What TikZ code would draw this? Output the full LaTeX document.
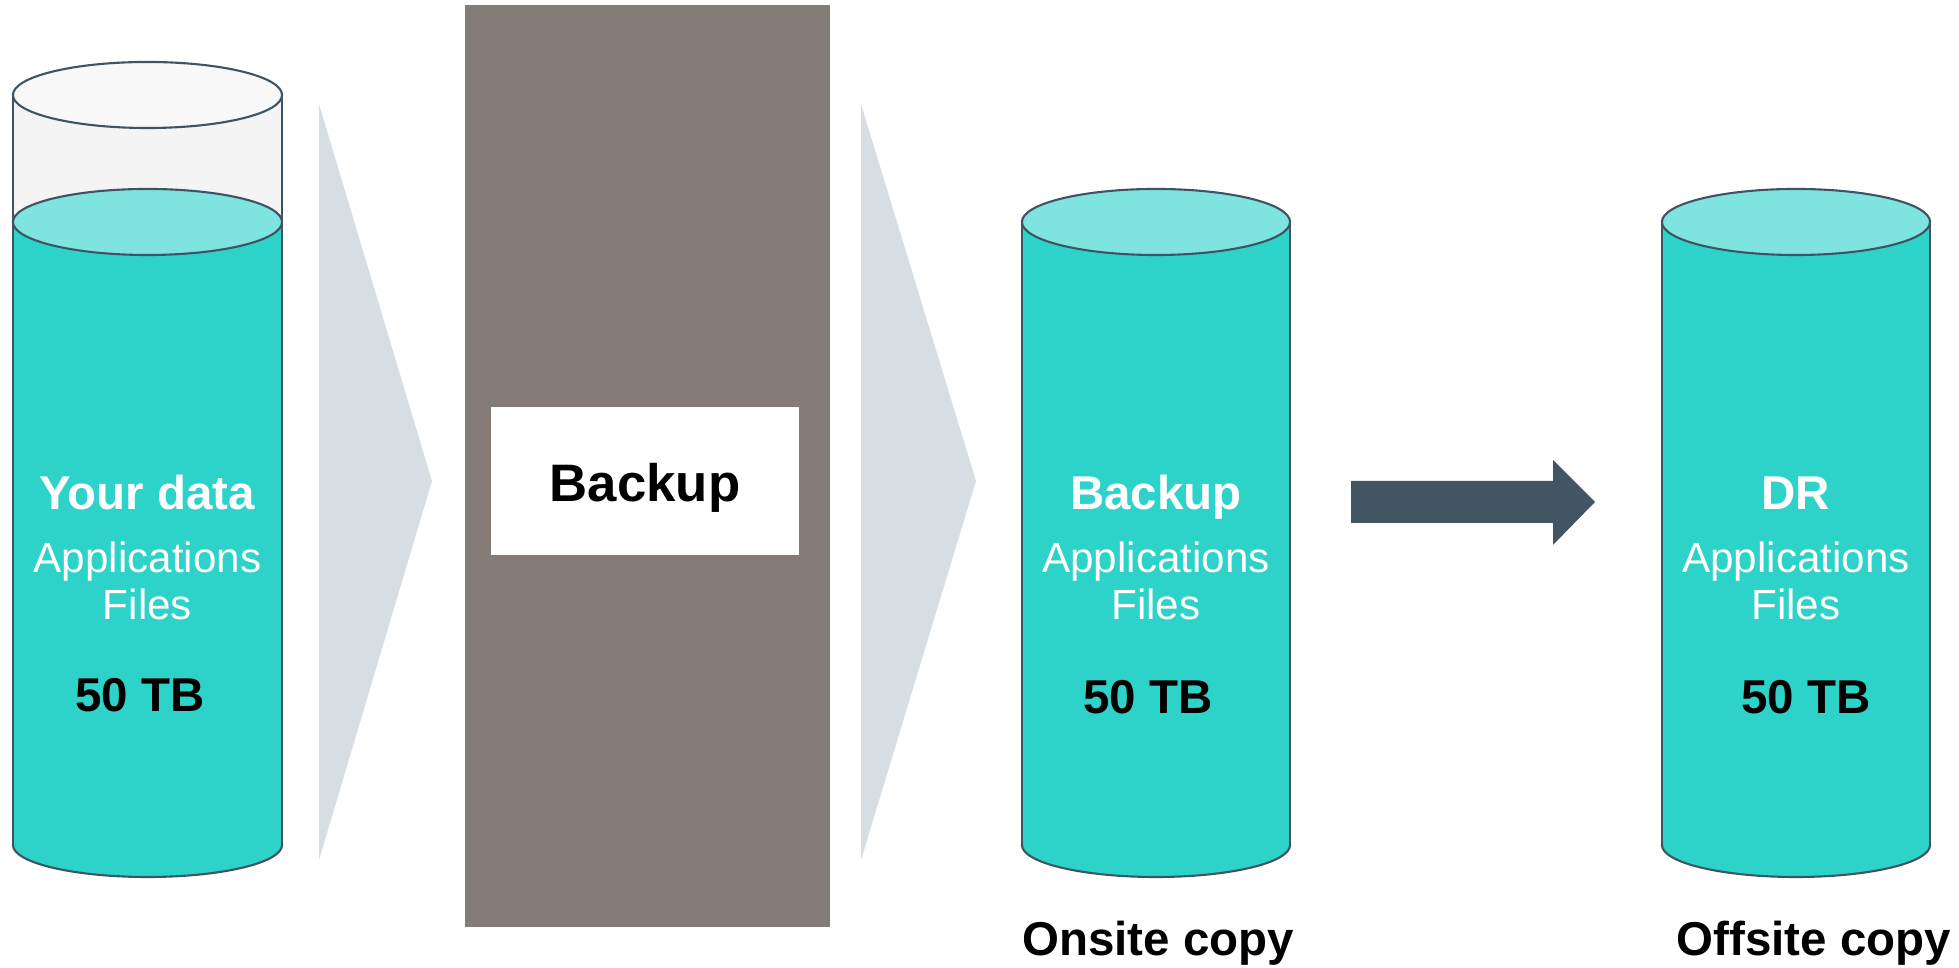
\documentclass[tikz,border=0pt]{standalone}
\usepackage{fontspec}
\setmainfont{Liberation Sans}
\usetikzlibrary{positioning}

\definecolor{tealbody}{HTML}{2DD3C9}
\definecolor{tealtop}{HTML}{7FE3DF}
\definecolor{slateline}{HTML}{3F5463}
\definecolor{glassside}{HTML}{F4F4F4}
\definecolor{glasstop}{HTML}{F8F8F8}
\definecolor{chevrongray}{HTML}{D6DEE3}
\definecolor{backupbrown}{HTML}{867C77}
\definecolor{arrowslate}{HTML}{425563}

\begin{document}
\begin{tikzpicture}[x=0.01cm, y=-0.01cm,
        outline/.style={draw=slateline, line width=0.6pt},
        titletext/.style={font=\fontsize{13.5}{16}\selectfont\bfseries, anchor=base},
        contenttext/.style={font=\fontsize{12}{14}\selectfont, text=white, anchor=base}]
    \useasboundingbox (0,0) rectangle (1959,968);
    % chevrons and the backup block
    \fill[chevrongray] (319,104) -- (432,481) -- (319,860) -- cycle;
    \fill[chevrongray] (861,104) -- (976,481) -- (861,860) -- cycle;
    \fill[backupbrown] (465,5) rectangle (830,927);
    \node[fill=white, minimum width=3.07cm, minimum height=1.47cm,
          text height=15pt, text depth=3.2pt,
          font=\fontsize{15}{18}\selectfont\bfseries] (backupbox) at (645,481) {Backup};
    % source cylinder, partly filled
    \fill[glassside] (13,95) rectangle (282,222);
    \filldraw[outline, fill=tealbody] (147.5,845) ellipse (1.345cm and 0.32cm);
    \fill[tealbody] (13,222) rectangle (282,845);
    \draw[outline] (13,95) -- (13,845) (282,95) -- (282,845);
    \filldraw[outline, fill=tealtop] (147.5,222) ellipse (1.345cm and 0.33cm);
    \filldraw[outline, fill=glasstop] (147.5,95) ellipse (1.345cm and 0.33cm);
    \node[titletext, text=white] (yourdata) at (147.5,510) {Your data};
    \node[contenttext] (srcapps) at (147.5,573) {Applications};
    \node[contenttext] (srcfiles) at (147.5,620) {Files};
    \node[titletext] (srcsize) at (140,712) {50 TB};
    % copies
    \foreach \cx/\nm/\lbl in {1156/onsite/Backup, 1796/offsite/DR} {
        \filldraw[outline, fill=tealbody] (\cx,845) ellipse (1.34cm and 0.32cm);
        \fill[tealbody] (\cx-134,222) rectangle (\cx+134,845);
        \draw[outline] (\cx-134,222) -- (\cx-134,845) (\cx+134,222) -- (\cx+134,845);
        \filldraw[outline, fill=tealtop] (\cx,222) ellipse (1.34cm and 0.33cm);
        \node[titletext, text=white] (\nm title) at (\cx,510) {\lbl};
        \node[contenttext] (\nm apps) at (\cx,573) {Applications};
        \node[contenttext] (\nm files) at (\cx,620) {Files};
    }
    \node[titletext] (onsitesize) at (1148,714) {50 TB};
    \node[titletext] (offsitesize) at (1806,714) {50 TB};
    \node[titletext] (onsitecopy) at (1158,956) {Onsite copy};
    \node[titletext] (offsitecopy) at (1814,956) {Offsite copy};
    % replication arrow
    \fill[arrowslate] (1351,481) -- (1553,481) -- (1553,460) -- (1595,502)
        -- (1553,545) -- (1553,523) -- (1351,523) -- cycle;
\end{tikzpicture}
\end{document}
